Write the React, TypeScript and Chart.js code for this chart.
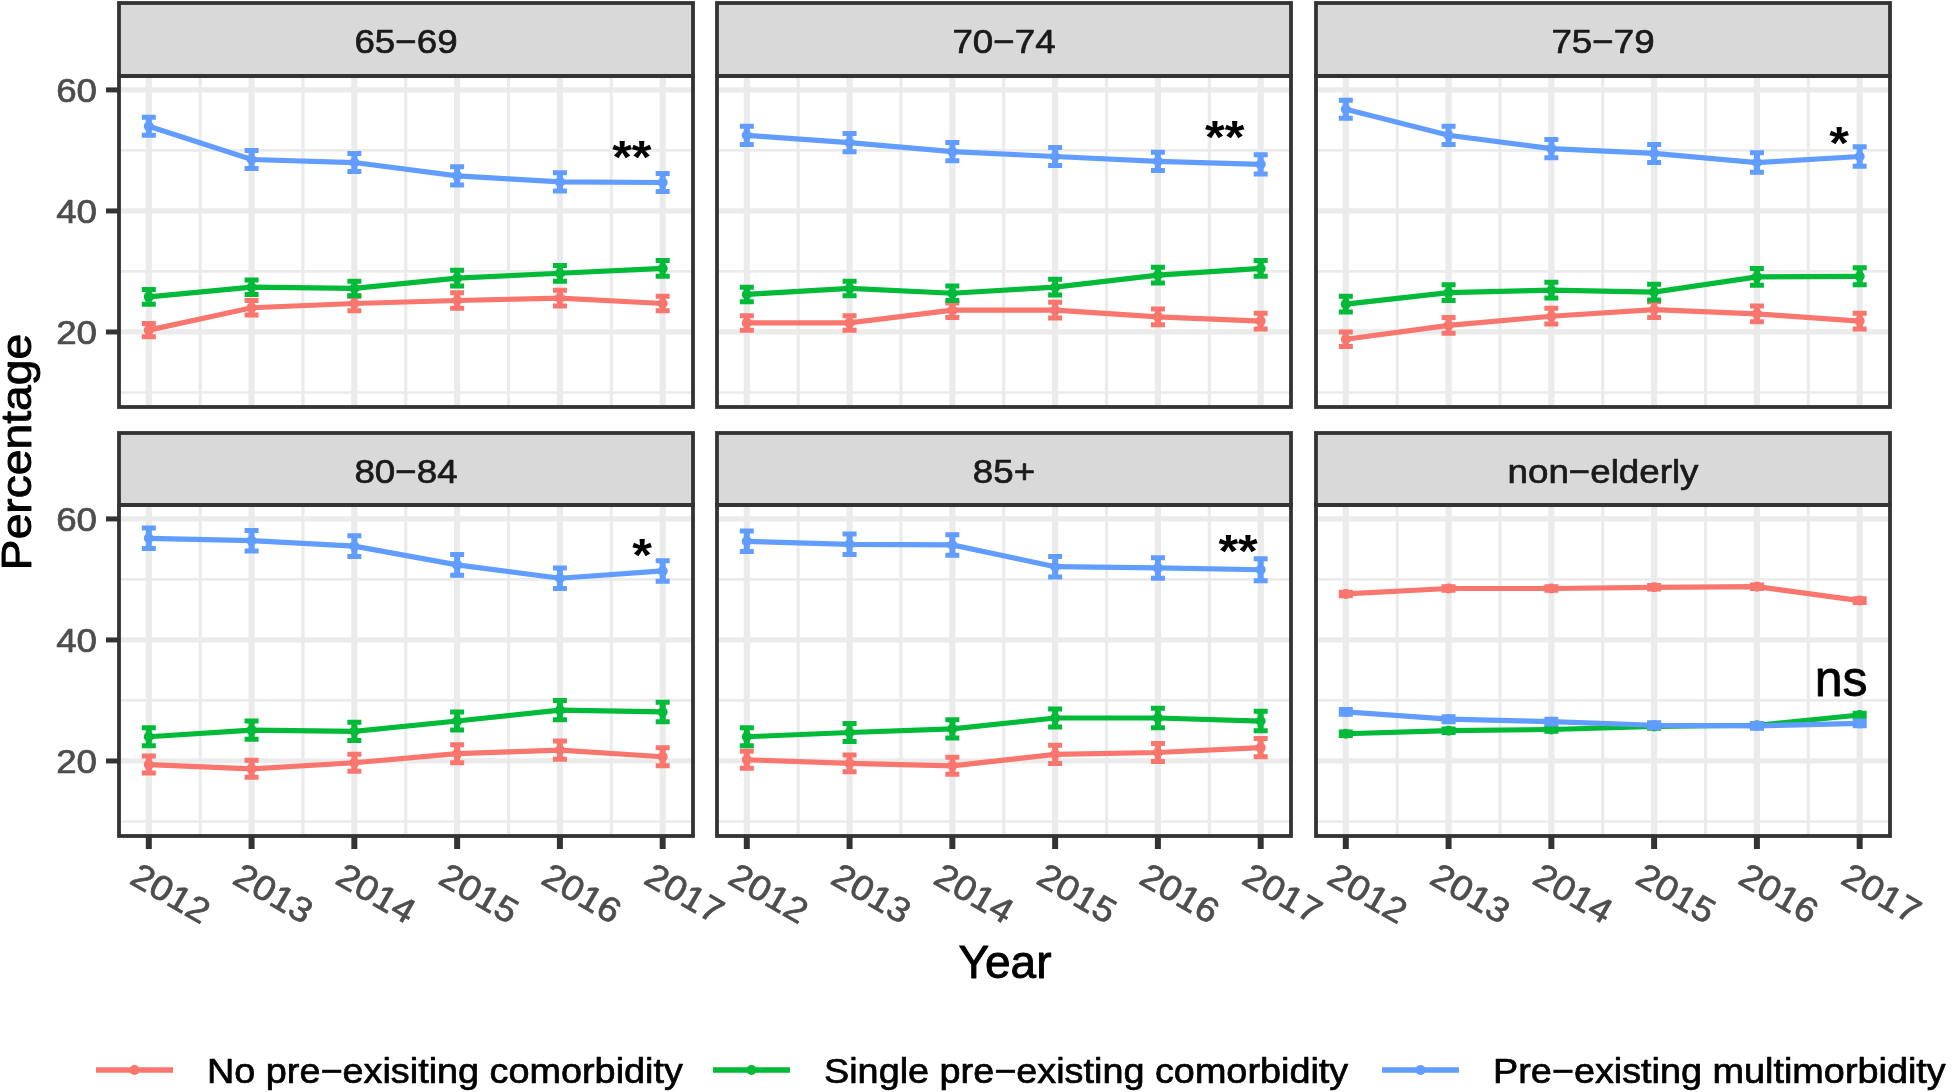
import React, { useEffect, useRef } from 'react';
import { Chart, registerables } from 'chart.js';

Chart.register(...registerables);

// ---------------- data ----------------
const years = [2012, 2013, 2014, 2015, 2016, 2017];
const panelNames = ['65−69', '70−74', '75−79', '80−84', '85+', 'non−elderly'];
const seriesNames = ['No pre−exisiting comorbidity', 'Single pre−existing comorbidity', 'Pre−existing multimorbidity'];
const seriesColors = ['#F8766D', '#00BA38', '#619CFF'];

const yMajorTicks = [20, 40, 60];
const yMinorTicks = [10, 30, 50];
const xMinorTicks = [2012.5, 2013.5, 2014.5, 2015.5, 2016.5];

const noneValues = [
  [20.3, 24.0, 24.7, 25.2, 25.6, 24.7],
  [21.5, 21.5, 23.6, 23.6, 22.5, 21.8],
  [18.8, 21.1, 22.6, 23.7, 23.0, 21.8],
  [19.4, 18.7, 19.7, 21.2, 21.8, 20.7],
  [20.2, 19.6, 19.2, 21.1, 21.4, 22.2],
  [47.6, 48.5, 48.5, 48.7, 48.8, 46.5],
];
const singleValues = [
  [25.8, 27.4, 27.2, 28.9, 29.7, 30.5],
  [26.2, 27.2, 26.4, 27.4, 29.4, 30.5],
  [24.6, 26.5, 26.9, 26.6, 29.1, 29.2],
  [24.0, 25.1, 24.9, 26.6, 28.4, 28.1],
  [24.0, 24.7, 25.3, 27.1, 27.1, 26.6],
  [24.5, 25.0, 25.2, 25.7, 25.9, 27.6],
];
const multiValues = [
  [54.0, 48.5, 48.0, 45.8, 44.8, 44.7],
  [52.5, 51.3, 49.8, 49.0, 48.2, 47.7],
  [56.8, 52.5, 50.3, 49.5, 48.0, 49.0],
  [56.8, 56.4, 55.5, 52.4, 50.2, 51.4],
  [56.3, 55.8, 55.7, 52.1, 51.9, 51.6],
  [28.1, 26.9, 26.5, 25.9, 25.8, 26.2],
];
const noneErr = [
  [1.1, 1.2, 1.2, 1.3, 1.3, 1.2],
  [1.2, 1.2, 1.2, 1.3, 1.3, 1.3],
  [1.2, 1.3, 1.3, 1.3, 1.3, 1.3],
  [1.4, 1.4, 1.4, 1.5, 1.5, 1.5],
  [1.4, 1.4, 1.4, 1.5, 1.5, 1.5],
  [0.3, 0.3, 0.3, 0.3, 0.3, 0.3],
];
const singleErr = [
  [1.2, 1.2, 1.2, 1.3, 1.3, 1.3],
  [1.2, 1.2, 1.2, 1.3, 1.3, 1.3],
  [1.3, 1.3, 1.3, 1.3, 1.4, 1.4],
  [1.5, 1.5, 1.5, 1.5, 1.6, 1.6],
  [1.5, 1.5, 1.5, 1.5, 1.6, 1.6],
  [0.3, 0.3, 0.3, 0.3, 0.3, 0.3],
];
const multiErr = [
  [1.5, 1.5, 1.5, 1.5, 1.5, 1.5],
  [1.5, 1.5, 1.5, 1.5, 1.5, 1.6],
  [1.5, 1.5, 1.5, 1.5, 1.6, 1.6],
  [1.7, 1.7, 1.7, 1.7, 1.7, 1.7],
  [1.7, 1.7, 1.7, 1.7, 1.7, 1.8],
  [0.4, 0.4, 0.4, 0.4, 0.4, 0.4],
];

const annotText = ['**', '**', '*', '*', '**', 'ns'];
const annotX = [2016.7, 2016.65, 2016.8, 2016.8, 2016.78, 2016.82];
const annotY = [48.4, 51.7, 50.7, 53.5, 54.2, 33.0];

// ---------------- layout ----------------
const W = 1952;
const H = 1092;
const colX = [[119, 693], [717, 1291], [1316, 1890]];
const rowY = [[76, 407], [505, 836]];
const stripTop = [3, 433];
const X_MIN = 2011.71;
const X_MAX = 2017.295;
const Y_MIN = 7.6;
const Y_MAX = 62.3;
const FONT = '"Liberation Sans", Arial, Helvetica, sans-serif';

type TextOpt = {
  size: number;
  color?: string;
  align?: CanvasTextAlign;
  baseline?: CanvasTextBaseline;
  rot?: number;
  stretch?: number;
  weight?: string;
  heavy?: number;
};

function drawText(ctx: CanvasRenderingContext2D, text: string, x: number, y: number, o: TextOpt, dy = 0) {
  ctx.save();
  ctx.translate(x, y);
  if (o.rot) ctx.rotate(o.rot);
  ctx.scale(o.stretch ?? 1.08, 1);
  ctx.font = `${o.weight ?? 'normal'} ${o.size}px ${FONT}`;
  ctx.fillStyle = o.color ?? '#000';
  ctx.textAlign = o.align ?? 'left';
  ctx.textBaseline = o.baseline ?? 'alphabetic';
  ctx.fillText(text, 0, dy);
  const hv = o.heavy ?? 0.7;
  if (hv > 0) {
    ctx.strokeStyle = o.color ?? '#000';
    ctx.lineWidth = hv;
    ctx.lineJoin = 'round';
    ctx.strokeText(text, 0, dy);
  }
  ctx.restore();
}

function makePlugin(p: number) {
  const row = Math.floor(p / 3);
  const col = p % 3;
  const errs = [noneErr[p], singleErr[p], multiErr[p]];
  const vals = [noneValues[p], singleValues[p], multiValues[p]];
  return {
    id: 'facet' + p,
    beforeDatasetsDraw(chart: any) {
      const { ctx, chartArea: a, scales } = chart;
      const xs = scales.x;
      const ys = scales.y;
      ctx.save();
      ctx.fillStyle = '#FFFFFF';
      ctx.fillRect(a.left, a.top, a.right - a.left, a.bottom - a.top);
      ctx.beginPath();
      ctx.rect(a.left, a.top, a.right - a.left, a.bottom - a.top);
      ctx.clip();
      ctx.strokeStyle = '#EBEBEB';
      const hline = (v: number, lw: number) => {
        const py = ys.getPixelForValue(v);
        ctx.lineWidth = lw;
        ctx.beginPath();
        ctx.moveTo(a.left, py);
        ctx.lineTo(a.right, py);
        ctx.stroke();
      };
      const vline = (v: number, lw: number) => {
        const px = xs.getPixelForValue(v);
        ctx.lineWidth = lw;
        ctx.beginPath();
        ctx.moveTo(px, a.top);
        ctx.lineTo(px, a.bottom);
        ctx.stroke();
      };
      yMinorTicks.forEach((v) => hline(v, 2.7));
      xMinorTicks.forEach((v) => vline(v, 3.2));
      yMajorTicks.forEach((v) => hline(v, 5.3));
      years.forEach((v) => vline(v, 6.2));
      ctx.restore();
    },
    afterDatasetsDraw(chart: any) {
      const { ctx, scales } = chart;
      const xs = scales.x;
      const ys = scales.y;
      ctx.save();
      for (let s = 0; s < 3; s++) {
        ctx.strokeStyle = seriesColors[s];
        for (let i = 0; i < years.length; i++) {
          const px = xs.getPixelForValue(years[i]);
          const y1 = ys.getPixelForValue(vals[s][i] + errs[s][i]);
          const y2 = ys.getPixelForValue(vals[s][i] - errs[s][i]);
          ctx.lineWidth = 6;
          ctx.beginPath();
          ctx.moveTo(px, y1);
          ctx.lineTo(px, y2);
          ctx.stroke();
          ctx.lineWidth = 5;
          ctx.beginPath();
          ctx.moveTo(px - 7, y1);
          ctx.lineTo(px + 7, y1);
          ctx.moveTo(px - 7, y2);
          ctx.lineTo(px + 7, y2);
          ctx.stroke();
        }
      }
      ctx.restore();
      const isStar = annotText[p].indexOf('*') >= 0;
      drawText(ctx, annotText[p], xs.getPixelForValue(annotX[p]), ys.getPixelForValue(annotY[p]), {
        size: isStar ? 46 : 50,
        align: 'center',
        baseline: 'middle',
        weight: isStar ? 'bold' : 'normal',
        stretch: isStar ? 1.1 : 1.0,
        heavy: isStar ? 0 : 0.8,
      });
    },
    afterDraw(chart: any) {
      const { ctx, chartArea: a, scales } = chart;
      const xs = scales.x;
      const ys = scales.y;
      ctx.save();
      // strip
      const st = stripTop[row];
      ctx.fillStyle = '#D9D9D9';
      ctx.fillRect(a.left, st, a.right - a.left, a.top - st);
      ctx.strokeStyle = '#333333';
      ctx.lineWidth = 3.8;
      ctx.strokeRect(a.left, st, a.right - a.left, a.top - st);
      // panel border
      ctx.strokeRect(a.left, a.top, a.right - a.left, a.bottom - a.top);
      ctx.restore();
      drawText(ctx, panelNames[p], (a.left + a.right) / 2, st + 49.5, { size: 34, color: '#1A1A1A', align: 'center' });

      // y axis
      if (col === 0) {
        ctx.save();
        ctx.strokeStyle = '#333333';
        ctx.lineWidth = 5;
        yMajorTicks.forEach((v) => {
          const py = ys.getPixelForValue(v);
          ctx.beginPath();
          ctx.moveTo(a.left - 13, py);
          ctx.lineTo(a.left, py);
          ctx.stroke();
        });
        ctx.restore();
        yMajorTicks.forEach((v) => {
          drawText(ctx, String(v), a.left - 22, ys.getPixelForValue(v) + 12, { size: 34, color: '#4D4D4D', align: 'right' });
        });
      }
      // x axis
      if (row === 1) {
        ctx.save();
        ctx.strokeStyle = '#333333';
        ctx.lineWidth = 6;
        years.forEach((v) => {
          const px = xs.getPixelForValue(v);
          ctx.beginPath();
          ctx.moveTo(px, a.bottom);
          ctx.lineTo(px, a.bottom + 13);
          ctx.stroke();
        });
        ctx.restore();
        years.forEach((v) => {
          const px = xs.getPixelForValue(v);
          drawText(ctx, String(v), px - 8, a.bottom + 25, { size: 35, color: '#4D4D4D', rot: Math.PI / 6 }, 25);
        });
      }

      // global elements
      if (p === 0) {
        drawText(ctx, 'Year', 1005, 978, { size: 46, align: 'center', stretch: 1.0, heavy: 0.9 });
        drawText(ctx, 'Percentage', 31, 452, { size: 42, align: 'center', rot: -Math.PI / 2, stretch: 1.1, heavy: 0.9 });
        const keyX = [96, 713, 1382];
        const ly = 1070;
        for (let s = 0; s < 3; s++) {
          ctx.save();
          ctx.strokeStyle = seriesColors[s];
          ctx.fillStyle = seriesColors[s];
          ctx.lineWidth = 5.5;
          ctx.beginPath();
          ctx.moveTo(keyX[s], ly);
          ctx.lineTo(keyX[s] + 77, ly);
          ctx.stroke();
          ctx.beginPath();
          ctx.arc(keyX[s] + 38.5, ly, 5, 0, Math.PI * 2);
          ctx.fill();
          ctx.restore();
          drawText(ctx, seriesNames[s], keyX[s] + 111, 1083, { size: 35 });
        }
      }
    },
  };
}

function Panel({ p }: { p: number }) {
  const ref = useRef<HTMLCanvasElement | null>(null);
  useEffect(() => {
    const canvas = ref.current;
    if (!canvas) return;
    const row = Math.floor(p / 3);
    const col = p % 3;
    const [l, r] = colX[col];
    const [t, b] = rowY[row];
    const seriesVals = [noneValues[p], singleValues[p], multiValues[p]];
    const chart = new Chart(canvas, {
      type: 'line',
      data: {
        datasets: seriesVals.map((vals, s) => ({
          label: seriesNames[s],
          data: years.map((yr, i) => ({ x: yr, y: vals[i] })),
          borderColor: seriesColors[s],
          backgroundColor: seriesColors[s],
          borderWidth: 5.2,
          pointRadius: 5,
          pointBorderWidth: 0,
          pointHoverRadius: 5,
          tension: 0,
          order: 3 - s,
        })),
      },
      options: {
        responsive: false,
        animation: false,
        devicePixelRatio: 1,
        events: [],
        layout: { padding: { left: l, right: W - r, top: t, bottom: H - b } },
        plugins: { legend: { display: false }, tooltip: { enabled: false }, title: { display: false } },
        scales: {
          x: { type: 'linear', min: X_MIN, max: X_MAX, display: false },
          y: { type: 'linear', min: Y_MIN, max: Y_MAX, display: false },
        },
      },
      plugins: [makePlugin(p)],
    } as any);
    return () => chart.destroy();
  }, [p]);
  return (
    <canvas
      ref={ref}
      width={W}
      height={H}
      style={{ position: 'absolute', left: 0, top: 0, width: W, height: H }}
    />
  );
}

export default function App() {
  return (
    <div style={{ position: 'absolute', left: 0, top: 0, width: W, height: H, background: '#FFFFFF', overflow: 'hidden' }}>
      {[0, 1, 2, 3, 4, 5].map((p) => (
        <Panel key={p} p={p} />
      ))}
    </div>
  );
}
